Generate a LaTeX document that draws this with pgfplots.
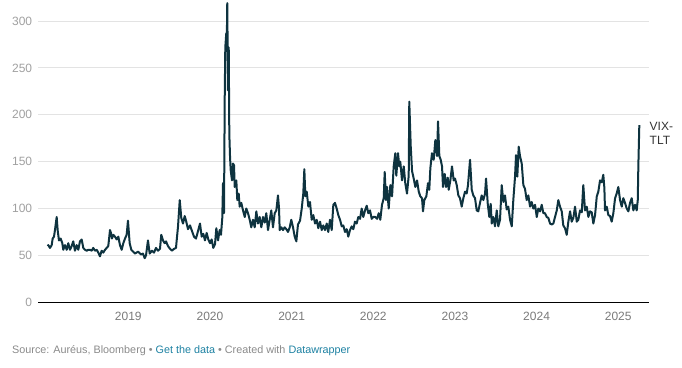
\documentclass[border=0pt]{standalone}
\usepackage{fontspec}
\setmainfont{Liberation Sans}
\usepackage{pgfplots}
\usepackage{pgfplotstable}
\pgfplotsset{compat=1.18}
\definecolor{lineC}{HTML}{0E333F}
\definecolor{gridC}{HTML}{E3E3E3}
\definecolor{ytickC}{HTML}{A0A0A0}
\definecolor{xtickC}{HTML}{7A7A7A}
\definecolor{srcC}{HTML}{8A8A8A}
\definecolor{linkC}{HTML}{1D81A2}
\definecolor{lblC}{HTML}{333333}
\pgfplotstableread{
year val
2018.013 60
2018.020 61
2018.041 58
2018.062 61
2018.074 68
2018.090 70
2018.102 77
2018.123 91
2018.135 77
2018.151 66
2018.172 68
2018.192 63
2018.204 56
2018.225 61
2018.246 56
2018.265 63
2018.286 56
2018.307 60
2018.326 65
2018.347 55
2018.368 61
2018.388 56
2018.408 65
2018.429 67
2018.449 58
2018.470 56
2018.491 55
2018.510 56
2018.531 56
2018.552 55
2018.571 58
2018.592 55
2018.613 56
2018.633 53
2018.653 49
2018.674 55
2018.694 53
2018.715 56
2018.735 58
2018.755 60
2018.776 77
2018.788 74
2018.800 68
2018.816 72
2018.837 70
2018.858 67
2018.878 70
2018.898 61
2018.919 56
2018.939 63
2018.960 68
2018.980 72
2018.996 87
2019.017 63
2019.037 56
2019.082 52
2019.119 54
2019.156 51
2019.180 52
2019.201 47
2019.217 50
2019.241 66
2019.262 52
2019.290 55
2019.315 53
2019.339 58
2019.364 55
2019.388 57
2019.404 72
2019.425 66
2019.446 63
2019.462 65
2019.486 60
2019.511 57
2019.535 55
2019.560 57
2019.584 58
2019.609 81
2019.630 109
2019.649 90
2019.670 84
2019.691 92
2019.710 86
2019.731 78
2019.756 82
2019.780 76
2019.805 70
2019.829 68
2019.854 76
2019.878 84
2019.899 70
2019.919 73
2019.939 66
2019.960 74
2019.980 67
2020.001 63
2020.021 67
2020.041 58
2020.062 62
2020.078 79
2020.099 66
2020.119 77
2020.135 72
2020.151 90
2020.160 127
2020.172 95
2020.181 219
2020.188 272
2020.200 287
2020.206 276
2020.212 319
2020.221 226
2020.230 272
2020.237 180
2020.246 155
2020.254 141
2020.270 130
2020.282 148
2020.295 146
2020.303 123
2020.323 130
2020.335 109
2020.352 116
2020.364 102
2020.384 106
2020.405 98
2020.426 91
2020.445 100
2020.466 95
2020.487 88
2020.506 80
2020.527 88
2020.548 80
2020.568 97
2020.588 84
2020.609 91
2020.629 80
2020.650 91
2020.671 85
2020.690 95
2020.711 77
2020.732 88
2020.751 98
2020.772 80
2020.793 95
2020.813 98
2020.833 114
2020.846 100
2020.854 77
2020.874 80
2020.895 77
2020.915 80
2020.935 78
2020.956 75
2020.977 80
2020.996 88
2021.017 80
2021.038 70
2021.058 65
2021.078 83
2021.103 87
2021.124 100
2021.143 116
2021.156 142
2021.168 113
2021.185 118
2021.205 102
2021.225 107
2021.246 88
2021.266 93
2021.287 84
2021.307 88
2021.327 79
2021.348 86
2021.369 77
2021.388 82
2021.409 77
2021.430 84
2021.449 75
2021.470 88
2021.491 77
2021.511 104
2021.531 106
2021.552 100
2021.572 93
2021.593 88
2021.614 81
2021.633 82
2021.654 75
2021.675 78
2021.694 70
2021.715 77
2021.736 81
2021.756 78
2021.776 86
2021.797 84
2021.817 91
2021.838 89
2021.858 100
2021.878 91
2021.899 98
2021.920 103
2021.939 95
2021.960 98
2021.981 89
2022.000 91
2022.025 91
2022.046 89
2022.067 95
2022.086 88
2022.107 104
2022.128 111
2022.140 139
2022.156 109
2022.168 123
2022.189 100
2022.209 125
2022.230 113
2022.250 145
2022.270 159
2022.282 135
2022.303 159
2022.319 145
2022.331 150
2022.352 130
2022.373 145
2022.392 127
2022.413 116
2022.434 135
2022.441 214
2022.459 166
2022.475 140
2022.495 132
2022.515 123
2022.536 130
2022.557 118
2022.576 113
2022.597 111
2022.609 97
2022.625 109
2022.650 113
2022.670 127
2022.686 120
2022.699 143
2022.719 159
2022.740 152
2022.760 173
2022.781 156
2022.793 193
2022.809 156
2022.826 152
2022.842 145
2022.854 123
2022.875 137
2022.891 123
2022.912 133
2022.924 120
2022.944 130
2022.964 145
2022.985 130
2023.001 132
2023.022 125
2023.042 114
2023.062 111
2023.083 102
2023.103 111
2023.124 118
2023.144 116
2023.160 125
2023.185 152
2023.206 120
2023.225 114
2023.246 111
2023.267 98
2023.286 97
2023.307 106
2023.328 114
2023.348 109
2023.369 116
2023.381 132
2023.402 105
2023.421 91
2023.438 105
2023.451 84
2023.470 91
2023.491 81
2023.512 98
2023.531 81
2023.552 88
2023.573 125
2023.593 107
2023.613 114
2023.634 99
2023.654 102
2023.675 88
2023.696 81
2023.715 109
2023.736 134
2023.748 157
2023.764 134
2023.781 166
2023.797 156
2023.818 148
2023.838 125
2023.858 121
2023.879 109
2023.899 114
2023.920 102
2023.940 107
2023.960 100
2023.981 104
2024.002 91
2024.021 100
2024.042 97
2024.063 104
2024.083 95
2024.103 95
2024.124 91
2024.144 90
2024.165 84
2024.185 83
2024.205 84
2024.226 91
2024.247 98
2024.266 109
2024.287 102
2024.308 97
2024.327 82
2024.348 79
2024.369 72
2024.389 86
2024.410 97
2024.430 86
2024.450 90
2024.471 102
2024.492 86
2024.511 88
2024.532 98
2024.553 96
2024.572 125
2024.593 98
2024.614 102
2024.634 91
2024.654 97
2024.675 96
2024.695 84
2024.716 93
2024.737 113
2024.756 118
2024.777 130
2024.798 128
2024.817 136
2024.830 122
2024.838 98
2024.859 102
2024.879 93
2024.899 92
2024.920 86
2024.940 95
2024.961 111
2024.981 116
2025.001 123
2025.022 109
2025.043 102
2025.062 111
2025.083 106
2025.104 100
2025.124 97
2025.144 106
2025.165 111
2025.185 98
2025.206 104
2025.226 98
2025.239 109
2025.246 145
2025.258 189
}\vixtlt

\begin{document}
\begin{tikzpicture}[x=1pt,y=1pt]
\useasboundingbox (0,0) rectangle (682,367);
\begin{axis}[
  at={(38.3pt,64.7pt)}, anchor=south west,
  scale only axis, width=610.4pt, height=281.3pt,
  xmin=2017.898, xmax=2025.373, ymin=0, ymax=300,
  clip=false,
  axis x line*=bottom, axis y line*=left,
  x axis line style={black, line width=1.3pt},
  y axis line style={draw=none},
  xtick={2019,2020,2021,2022,2023,2024,2025},
  xticklabels={2019,2020,2021,2022,2023,2024,2025},
  ytick={0,50,100,150,200,250,300},
  yticklabels={0,50,100,150,200,250,300},
  major tick length=0pt,
  ymajorgrids,
  major grid style={gridC, line width=0.9pt},
  xticklabel style={font=\fontsize{12}{14}\selectfont, text=xtickC, anchor=center, inner sep=0pt, yshift=-14.5pt},
  yticklabel style={font=\fontsize{12}{14}\selectfont, text=ytickC, anchor=east, inner sep=0pt, xshift=-6pt},
]
\addplot[lineC, line width=2pt, line join=round] table[x=year,y=val]{\vixtlt};
\end{axis}
\node[anchor=base west, inner sep=0pt, font=\fontsize{12}{14}\selectfont, text=lblC] at (649.5,236.7) {VIX-};
\node[anchor=base west, inner sep=0pt, font=\fontsize{12}{14}\selectfont, text=lblC] at (649.5,222.7) {TLT};
\node[anchor=base west, inner sep=0pt, font=\fontsize{10.8}{13}\selectfont, text=srcC] at (12,14) {Source: Auréus, Bloomberg • \textcolor{linkC}{Get the data} • Created with \textcolor{linkC}{Datawrapper}};
\end{tikzpicture}
\end{document}
